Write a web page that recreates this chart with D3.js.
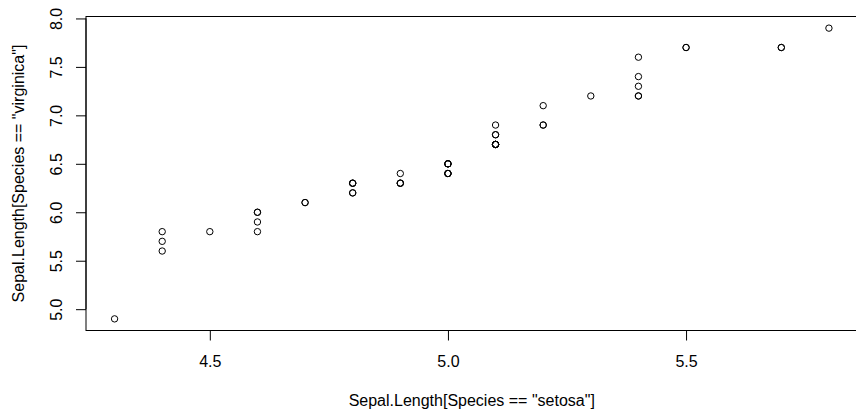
<!DOCTYPE html>
<html>
<head>
<meta charset="utf-8">
<script src="https://cdn.jsdelivr.net/npm/d3@7"></script>
<style>
body { margin: 0; background: white; }
text { font-family: "Liberation Sans", Arial, sans-serif; }
</style>
</head>
<body>
<script>
var g_width = 856
var g_height = 409
var g_font = 16

// sorted setosa vs sorted virginica sepal lengths (quantile pairs)
var setosa = [4.3, 4.4, 4.4, 4.4, 4.5, 4.6, 4.6, 4.6, 4.6, 4.7, 4.7,
    4.8, 4.8, 4.8, 4.8, 4.8, 4.9, 4.9, 4.9, 4.9,
    5.0, 5.0, 5.0, 5.0, 5.0, 5.0, 5.0, 5.0,
    5.1, 5.1, 5.1, 5.1, 5.1, 5.1, 5.1, 5.1,
    5.2, 5.2, 5.2, 5.3, 5.4, 5.4, 5.4, 5.4, 5.4, 5.5, 5.5, 5.7, 5.7, 5.8]
var virginica = [4.9, 5.6, 5.7, 5.8, 5.8, 5.8, 5.9, 6.0, 6.0, 6.1, 6.1,
    6.2, 6.2, 6.3, 6.3, 6.3, 6.3, 6.3, 6.3, 6.4,
    6.4, 6.4, 6.4, 6.4, 6.5, 6.5, 6.5, 6.5,
    6.7, 6.7, 6.7, 6.7, 6.7, 6.8, 6.8, 6.9,
    6.9, 6.9, 7.1, 7.2, 7.2, 7.2, 7.3, 7.4, 7.6, 7.7, 7.7, 7.7, 7.7, 7.9]

var xTicks = [4.5, 5.0, 5.5]
var yTicks = [5.0, 5.5, 6.0, 6.5, 7.0, 7.5, 8.0]
var xTitle = 'Sepal.Length[Species == "setosa"]'
var yTitle = 'Sepal.Length[Species == "virginica"]'

var plot = { left: 86, right: 857.5, top: 16.5, bottom: 330.5 }

var svg = d3.select("body").append("svg")
    .attr("width", g_width)
    .attr("height", g_height)

// R style 4% padding on the data range
var xr = d3.extent(setosa), yr = d3.extent(virginica)
var xpad = (xr[1] - xr[0]) * 0.04, ypad = (yr[1] - yr[0]) * 0.04

var xScale = d3.scaleLinear().domain([xr[0] - xpad, xr[1] + xpad]).range([plot.left, plot.right])
var yScale = d3.scaleLinear().domain([yr[0] - ypad, yr[1] + ypad]).range([plot.bottom, plot.top])

// box
svg.append("rect")
    .attr("x", plot.left)
    .attr("y", plot.top)
    .attr("width", plot.right - plot.left)
    .attr("height", plot.bottom - plot.top)
    .attr("fill", "none")
    .attr("stroke", "black")
    .attr("stroke-width", 1)

var xAxis = d3.axisBottom(xScale).tickValues(xTicks).tickFormat(d3.format(".1f")).tickSize(10).tickPadding(15)
var xg = svg.append("g")
    .attr("transform", "translate(0," + plot.bottom + ")")
    .call(xAxis)
    .attr("font-size", g_font).attr("font-family", null)
xg.select(".domain")
    .attr("d", "M" + xScale(xTicks[0]) + ",0H" + xScale(xTicks[xTicks.length - 1]))
xg.selectAll("text").attr("fill", "black")

var yAxis = d3.axisLeft(yScale).tickValues(yTicks).tickFormat(d3.format(".1f")).tickSize(10)
var yg = svg.append("g")
    .attr("transform", "translate(" + plot.left + ",0)")
    .call(yAxis)
    .attr("font-size", g_font).attr("font-family", null)
yg.select(".domain")
    .attr("d", "M0," + yScale(yTicks[0]) + "V" + yScale(yTicks[yTicks.length - 1]))
yg.selectAll(".tick text")
    .attr("x", null).attr("dy", null)
    .attr("transform", "translate(-24.5,0) rotate(-90)")
    .attr("text-anchor", "middle")
    .attr("fill", "black")

// axis titles
svg.append("text")
    .attr("x", (plot.left + plot.right) / 2)
    .attr("y", 406)
    .attr("text-anchor", "middle")
    .attr("font-size", g_font)
    .text(xTitle)

svg.append("text")
    .attr("transform", "translate(23.5," + ((plot.top + plot.bottom) / 2) + ") rotate(-90)")
    .attr("text-anchor", "middle")
    .attr("font-size", g_font)
    .text(yTitle)

// points, open circles like pch = 1
svg.append("g").selectAll("circle")
    .data(setosa.map(function (d, i) { return { x: d, y: virginica[i] } }))
    .enter().append("circle")
    .attr("cx", function (d) { return xScale(d.x) })
    .attr("cy", function (d) { return yScale(d.y) })
    .attr("r", 3.2)
    .attr("fill", "none")
    .attr("stroke", "black")
    .attr("stroke-width", 1)
</script>
</body>
</html>
